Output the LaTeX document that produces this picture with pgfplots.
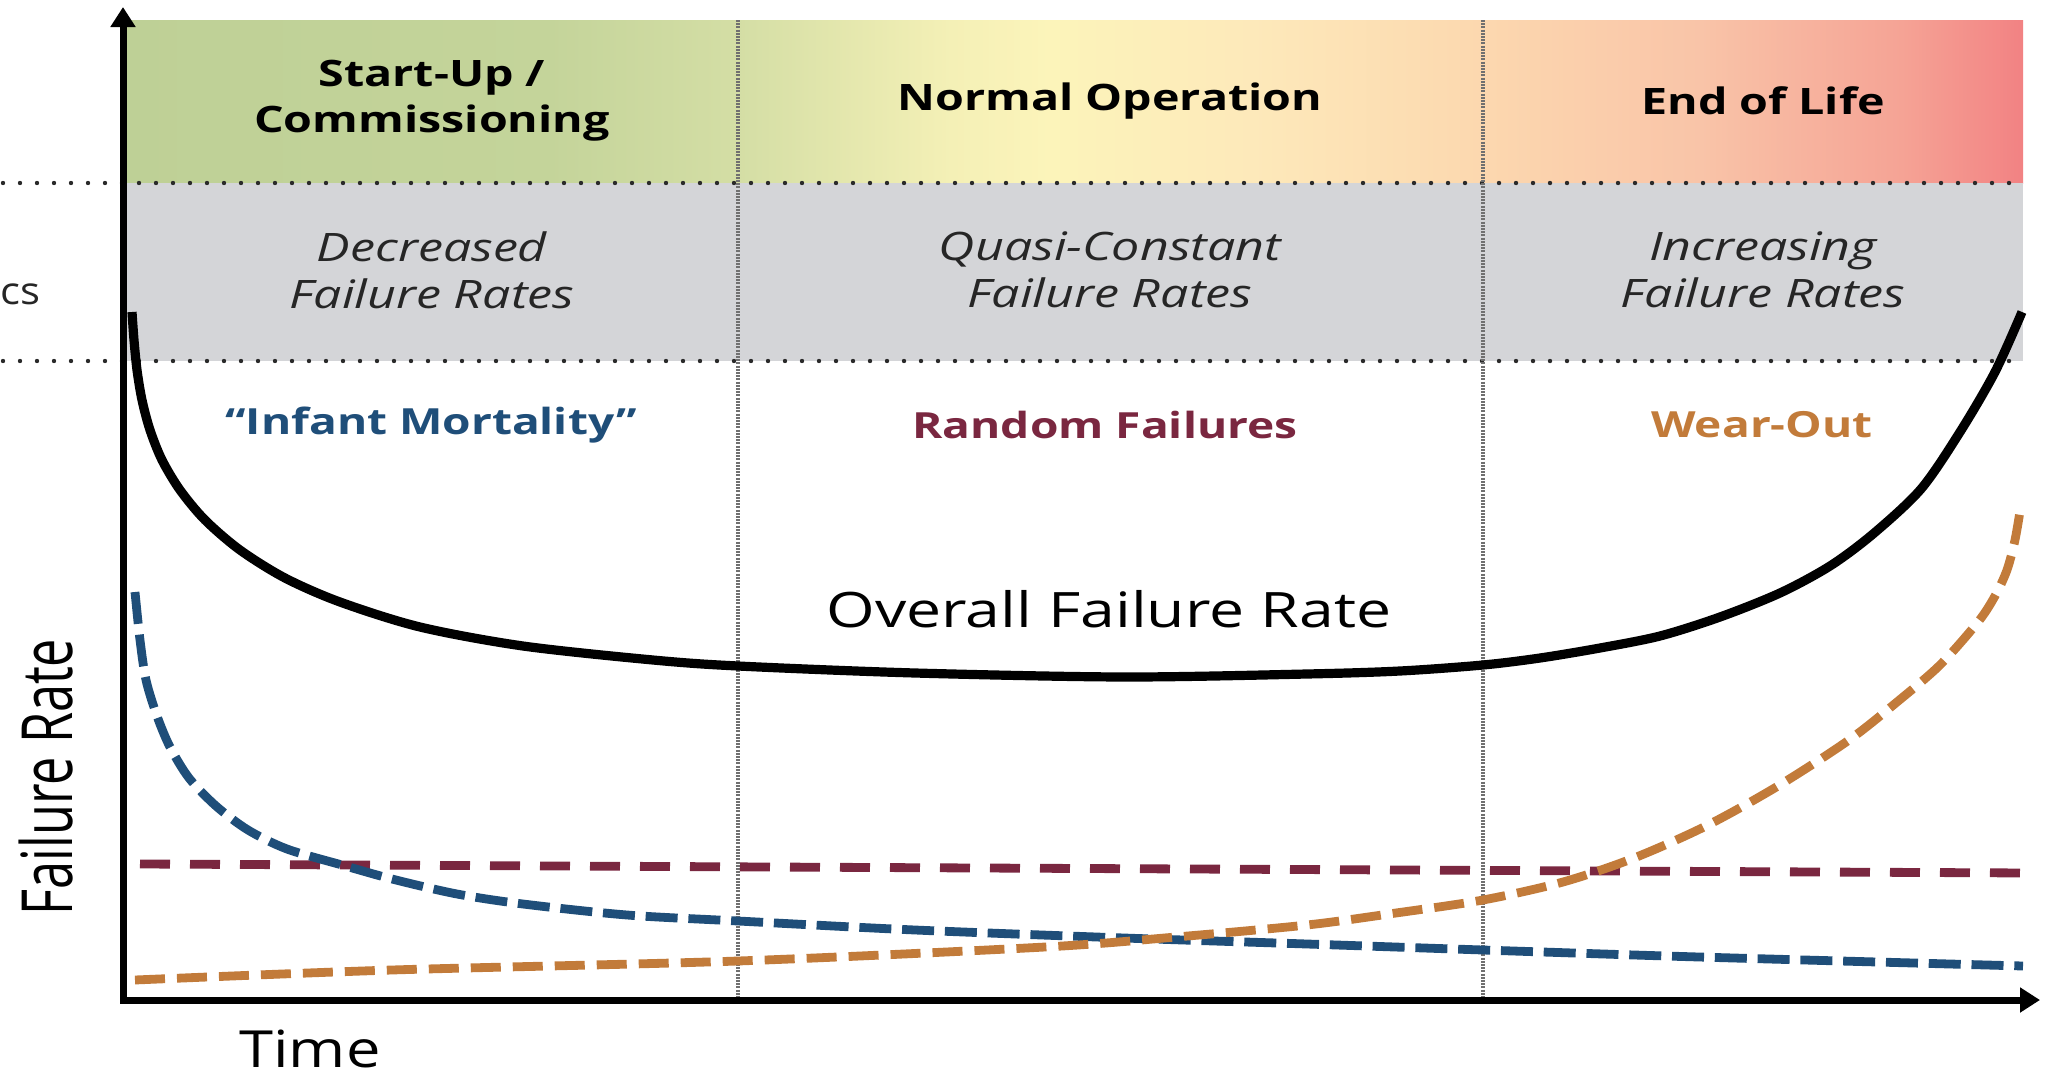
\documentclass[border=0pt]{standalone}
\usepackage{fontspec}
\setmainfont{Open Sans}
\usepackage{pgfplots}
\pgfplotsset{compat=1.18}
\usetikzlibrary{arrows.meta}
\definecolor{hc1}{HTML}{BED096}
\definecolor{hc2}{HTML}{C4D49A}
\definecolor{hc3}{HTML}{D4DEA5}
\definecolor{hc4}{HTML}{F4F0B6}
\definecolor{hc5}{HTML}{FCF4BA}
\definecolor{hc6}{HTML}{FDE9BA}
\definecolor{hc7}{HTML}{FCD8AF}
\definecolor{hc8}{HTML}{F9C4A8}
\definecolor{hc9}{HTML}{F5A395}
\definecolor{hc10}{HTML}{F28283}
\definecolor{bandgray}{HTML}{D4D5D8}
\definecolor{imblue}{HTML}{1F4E79}
\definecolor{rfmaroon}{HTML}{7A2740}
\definecolor{woorange}{HTML}{C27B3A}
\definecolor{dotcol}{HTML}{2A2A2A}
\definecolor{vcol}{HTML}{707070}
\pgfdeclarehorizontalshading{lifecycle}{100bp}{color(0bp)=(hc1); color(25bp)=(hc1); color(36.2bp)=(hc2); color(41.2bp)=(hc3); color(46.8bp)=(hc4); color(49.4bp)=(hc5); color(54.7bp)=(hc6); color(60.7bp)=(hc7); color(66.5bp)=(hc8); color(71.8bp)=(hc9); color(75bp)=(hc10); color(100bp)=(hc10)}

\begin{document}
\begin{tikzpicture}
\begin{axis}[x=0.25pt, y=0.25pt, xmin=0, xmax=2049, ymin=0, ymax=1075,
  hide axis, clip=false]
% bounding frame (invisible)
\path (axis cs:0,0) rectangle (axis cs:2049,1075);
% bands
\shade[shading=lifecycle] (axis cs:123,1055) rectangle (axis cs:2023,892);
\fill[bandgray] (axis cs:123,892) rectangle (axis cs:2023,714);
% dotted separators
\draw[dotcol, line width=1.1pt, line cap=round, dash pattern=on 0pt off 4.25pt] (axis cs:3,892) -- (axis cs:2023,892);
\draw[dotcol, line width=1.1pt, line cap=round, dash pattern=on 0pt off 4.25pt] (axis cs:3,714) -- (axis cs:2023,714);
% vertical phase dividers
\draw[vcol, line width=0.9pt, dash pattern=on 0.5pt off 0.3pt] (axis cs:738,1055) -- (axis cs:738,75);
\draw[vcol, line width=0.9pt, dash pattern=on 0.5pt off 0.3pt] (axis cs:1483,1055) -- (axis cs:1483,75);

% random failures
\addplot[rfmaroon, line width=2.2pt, dash pattern=on 7.5pt off 5pt] table[x index=0, y expr=1075-\thisrowno{1}] {
x y
140 864
2030 873
};
% infant mortality
\addplot[imblue, line width=2.2pt, smooth, dash pattern=on 8pt off 2.7pt] table[x index=0, y expr=1075-\thisrowno{1}] {
x y
135 592
140 640
146 680
157 716
170 747
189 778
216 806
248 830
287 849
342 865
392 879
457 894
523 904
627 915
738 921
915 930
1124 938
1307 944
1483 950
1699 957
2023 966
};
% wear-out
\addplot[woorange, line width=2.2pt, smooth, dash pattern=on 7.5pt off 3pt] table[x index=0, y expr=1075-\thisrowno{1}] {
x y
135 980
392 970
738 961
1045 947
1176 937
1307 925
1396 913
1483 900
1563 882
1634 858
1706 826
1778 786
1849 740
1897 702
1940 665
1978 622
1995 596
2007 570
2015 540
2021 505
};
% overall
\addplot[black, line width=2.3pt, smooth] table[x index=0, y expr=1075-\thisrowno{1}] {
x y
132 312
134 340
137 370
142 400
150 430
162 460
180 490
205 520
240 550
285 578
340 602
420 627
523 646
653 660
738 666
915 673
1124 677
1307 674
1400 671
1483 665
1540 658
1600 648
1660 636
1720 617
1780 593
1830 566
1873 534
1921 489
1960 432
1995 372
2022 312
};
% axes
\draw[black, line width=1.75pt, line join=miter, {Triangle[length=5pt,width=6pt]}-{Triangle[length=5pt,width=6pt]}] (axis cs:123,1068) -- (axis cs:123,75) -- (axis cs:2040,75);

% header texts
\begin{scope}[every node/.style={inner sep=0pt}]
\node[font={\fontsize{9.1}{11.5}\selectfont\bfseries}, xscale=1.28, align=center] at (axis cs:432,974) {Start-Up /\\Commissioning};
\node[font={\fontsize{9.1}{11.5}\selectfont\bfseries}, xscale=1.28] at (axis cs:1110,974) {Normal Operation};
\node[font={\fontsize{9.1}{11.5}\selectfont\bfseries}, xscale=1.28] at (axis cs:1763,974) {End of Life};
% characteristics
\node[font={\fontsize{9.8}{11.75}\selectfont\itshape}, text=black!85, xscale=1.28, align=center] at (axis cs:432,805) {Decreased\\Failure Rates};
\node[font={\fontsize{9.8}{11.75}\selectfont\itshape}, text=black!85, xscale=1.28, align=center] at (axis cs:1110,805) {Quasi-Constant\\Failure Rates};
\node[font={\fontsize{9.8}{11.75}\selectfont\itshape}, text=black!85, xscale=1.28, align=center] at (axis cs:1763,805) {Increasing\\Failure Rates};
\node[font={\fontsize{9.5}{10}\selectfont}, text=black!85, xscale=1.1, anchor=west] at (axis cs:0,781) {cs};
% failure types
\node[font={\fontsize{9}{11}\selectfont\bfseries}, text=imblue, xscale=1.28] at (axis cs:431,650) {“Infant Mortality”};
\node[font={\fontsize{9}{11}\selectfont\bfseries}, text=rfmaroon, xscale=1.28] at (axis cs:1105,650) {Random Failures};
\node[font={\fontsize{9}{11}\selectfont\bfseries}, text=woorange, xscale=1.28] at (axis cs:1762,650) {Wear-Out};
\node[font={\fontsize{12.2}{14}\selectfont}, xscale=1.28] at (axis cs:1109,466) {Overall Failure Rate};
% axis labels
\node[font={\fontsize{12.6}{14}\selectfont}, rotate=90, yscale=1.4] at (axis cs:46,298) {Failure Rate};
\node[font={\fontsize{12.8}{14}\selectfont}, xscale=1.2] at (axis cs:310,26) {Time};
\end{scope}
\end{axis}
\end{tikzpicture}
\end{document}
